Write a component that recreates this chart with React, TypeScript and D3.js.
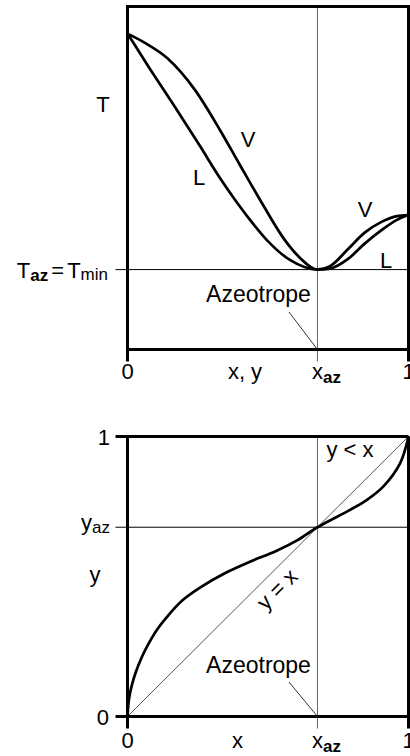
import React from "react";
import * as d3 from "d3";

// Composition (mole fraction) and temperature samples of the minimum-boiling azeotrope
const vapourX = [0, 0.062, 0.141, 0.24, 0.329, 0.4, 0.472, 0.56, 0.614, 0.676, 0.721, 0.785, 0.843, 0.904, 0.959, 1];
const vapourT = [0.921, 0.894, 0.85, 0.757, 0.64, 0.538, 0.436, 0.319, 0.267, 0.233, 0.243, 0.293, 0.34, 0.372, 0.389, 0.392];
const liquidX = [0, 0.08, 0.169, 0.258, 0.329, 0.383, 0.436, 0.496, 0.578, 0.676, 0.721, 0.785, 0.843, 0.904, 0.959, 1];
const liquidT = [0.921, 0.818, 0.707, 0.593, 0.5, 0.436, 0.378, 0.319, 0.261, 0.233, 0.236, 0.264, 0.308, 0.348, 0.378, 0.392];

// Equilibrium y–x curve
const eqX = [0, 0.005, 0.015, 0.03, 0.05, 0.075, 0.105, 0.14, 0.19, 0.258, 0.353, 0.436, 0.531, 0.602, 0.676, 0.792, 0.851, 0.91, 0.97, 1];
const eqY = [0, 0.06, 0.11, 0.16, 0.21, 0.26, 0.31, 0.355, 0.41, 0.46, 0.515, 0.553, 0.592, 0.628, 0.676, 0.738, 0.773, 0.821, 0.904, 1];

const X_AZ = 0.676;
const T_AZ = 0.233;
const Y_AZ = 0.676;

const FONT = "'Liberation Sans', Arial, Helvetica, sans-serif";
const FS = 22;
const SUB = 16;

export default function App() {
  const W = 410;
  const H = 756;

  const x = d3.scaleLinear().domain([0, 1]).range([127.5, 408.5]);
  const t = d3.scaleLinear().domain([0, 1]).range([349.5, 6.5]);
  const y = d3.scaleLinear().domain([0, 1]).range([716.5, 436.5]);

  const tLine = d3
    .line<[number, number]>()
    .x((d) => x(d[0]))
    .y((d) => t(d[1]))
    .curve(d3.curveMonotoneX);
  const yLine = d3
    .line<[number, number]>()
    .x((d) => x(d[0]))
    .y((d) => y(d[1]))
    .curve(d3.curveCatmullRom.alpha(0.5));

  const vPath = tLine(vapourX.map((v, i) => [v, vapourT[i]]))!;
  const lPath = tLine(liquidX.map((v, i) => [v, liquidT[i]]))!;
  const eqPath = yLine(eqX.map((v, i) => [v, eqY[i]]))!;

  const tick = 12;
  const thick = 3;
  const curveW = 2.7;

  const txt = { fontFamily: FONT, fontSize: FS, fill: "#000" } as const;

  // "y = x" label along the diagonal
  const diagLabel = { cx: 282.5, cy: 594.5 };

  return (
    <div style={{ position: "absolute", left: 0, top: 0 }}>
      <svg width={W} height={H} viewBox={`0 0 ${W} ${H}`} style={{ display: "block", background: "#fff" }}>
        <rect x={0} y={0} width={W} height={H} fill="#fff" />

        {/* ---------- T–x,y diagram ---------- */}
        <g>
          {/* azeotrope composition */}
          <line x1={x(X_AZ)} x2={x(X_AZ)} y1={t(1)} y2={t(0) + tick} stroke="#666" strokeWidth={1} />
          {/* azeotrope temperature */}
          <line x1={x(0) - tick} x2={x(1)} y1={t(T_AZ)} y2={t(T_AZ)} stroke="#000" strokeWidth={1} />

          <path d={vPath} fill="none" stroke="#000" strokeWidth={curveW} strokeLinejoin="round" />
          <path d={lPath} fill="none" stroke="#000" strokeWidth={curveW} strokeLinejoin="round" />

          {/* frame */}
          <line x1={x(0)} x2={x(1)} y1={t(1)} y2={t(1)} stroke="#000" strokeWidth={thick} strokeLinecap="square" />
          <line x1={x(0)} x2={x(1)} y1={t(0)} y2={t(0)} stroke="#000" strokeWidth={thick} />
          <line x1={x(0)} x2={x(0)} y1={t(1)} y2={t(0) + tick} stroke="#000" strokeWidth={thick} />
          <line x1={x(1)} x2={x(1)} y1={t(1)} y2={t(0) + tick} stroke="#000" strokeWidth={thick} />

          {/* labels */}
          <text {...txt} x={103} y={112} textAnchor="middle">T</text>
          <text {...txt} x={248} y={147} textAnchor="middle">V</text>
          <text {...txt} x={199} y={185} textAnchor="middle">L</text>
          <text {...txt} x={365} y={217} textAnchor="middle">V</text>
          <text {...txt} x={386} y={268} textAnchor="middle">L</text>

          <text {...txt} x={108} y={278} textAnchor="end">
            <tspan>T</tspan>
            <tspan fontSize={SUB + 1} fontWeight="bold" dy={3}>az</tspan>
            <tspan dy={-3} dx={3}>=</tspan>
            <tspan dx={3}>T</tspan>
            <tspan fontSize={SUB + 1} dy={2}>min</tspan>
          </text>

          <text {...txt} fontSize={23} x={258.5} y={302} textAnchor="middle">Azeotrope</text>
          <line x1={289} y1={312} x2={x(X_AZ)} y2={t(0)} stroke="#333" strokeWidth={1} />

          <text {...txt} x={x(0)} y={379} textAnchor="middle">0</text>
          <text {...txt} x={245} y={379} textAnchor="middle">x, y</text>
          <text {...txt} x={312} y={379}>
            <tspan>x</tspan>
            <tspan fontSize={SUB + 1} fontWeight="bold" dy={4}>az</tspan>
          </text>
          <text {...txt} x={x(1)} y={379} textAnchor="middle">1</text>
        </g>

        {/* ---------- y–x diagram ---------- */}
        <g>
          <line x1={x(X_AZ)} x2={x(X_AZ)} y1={y(1)} y2={y(0) + tick} stroke="#666" strokeWidth={1} />
          <line x1={x(0) - tick} x2={x(1)} y1={y(Y_AZ)} y2={y(Y_AZ)} stroke="#000" strokeWidth={1} />
          {/* y = x diagonal */}
          <line x1={x(0)} y1={y(0)} x2={x(1)} y2={y(1)} stroke="#444" strokeWidth={0.9} />

          <path d={eqPath} fill="none" stroke="#000" strokeWidth={curveW} strokeLinejoin="round" />

          {/* frame */}
          <line x1={x(0) - tick} x2={x(1)} y1={y(1)} y2={y(1)} stroke="#000" strokeWidth={thick} />
          <line x1={x(0) - tick} x2={x(1)} y1={y(0)} y2={y(0)} stroke="#000" strokeWidth={thick} />
          <line x1={x(0)} x2={x(0)} y1={y(1)} y2={y(0) + tick} stroke="#000" strokeWidth={thick} />
          <line x1={x(1)} x2={x(1)} y1={y(1)} y2={y(0) + tick} stroke="#000" strokeWidth={thick} />

          <text {...txt} x={110} y={y(1) + 8} textAnchor="end">1</text>
          <text {...txt} x={110} y={530} textAnchor="end">
            <tspan>y</tspan>
            <tspan fontSize={SUB + 1} dy={3}>az</tspan>
          </text>
          <text {...txt} x={95} y={582} textAnchor="middle">y</text>
          <text {...txt} x={109} y={y(0) + 8} textAnchor="end">0</text>

          <text {...txt} x={350} y={457} textAnchor="middle">y &lt; x</text>
          <text
            {...txt}
            x={diagLabel.cx}
            y={diagLabel.cy}
            textAnchor="middle"
            transform={`rotate(-45 ${diagLabel.cx} ${diagLabel.cy})`}
          >
            y = x
          </text>

          <text {...txt} fontSize={23} x={258.5} y={673} textAnchor="middle">Azeotrope</text>
          <line x1={289} y1={682} x2={x(X_AZ)} y2={y(0)} stroke="#333" strokeWidth={1} />

          <text {...txt} x={x(0)} y={748} textAnchor="middle">0</text>
          <text {...txt} x={237.5} y={748} textAnchor="middle">x</text>
          <text {...txt} x={312} y={748}>
            <tspan>x</tspan>
            <tspan fontSize={SUB + 1} fontWeight="bold" dy={4}>az</tspan>
          </text>
          <text {...txt} x={x(1)} y={748} textAnchor="middle">1</text>
        </g>
      </svg>
    </div>
  );
}
